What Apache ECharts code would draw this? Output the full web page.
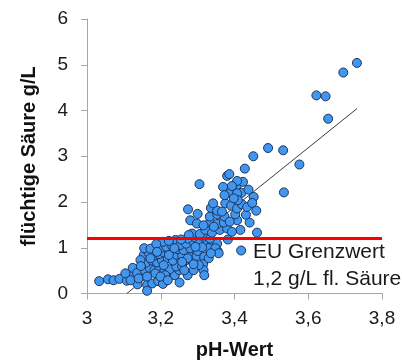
<!DOCTYPE html>
<html>
<head>
<meta charset="utf-8">
<script src="https://cdn.jsdelivr.net/npm/echarts@6/dist/echarts.min.js"></script>
<style>
  html, body { margin: 0; padding: 0; background: #fff; }
  #chart { width: 402px; height: 363px; }
</style>
</head>
<body>
<div id="chart"></div>
<script>
// pH values of the wine samples
const phWerte = [
  3.033, 3.057, 3.072, 3.088, 3.108, 3.125, 3.124, 3.137, 3.146, 3.136,
  3.163, 3.163, 3.177, 3.193, 3.206, 3.156, 3.170, 3.183, 3.196, 3.210,
  3.226, 3.238, 3.251, 3.273, 3.250, 3.224, 3.242, 3.160, 3.176, 3.190,
  3.203, 3.219, 3.233, 3.253, 3.267, 3.283, 3.154, 3.167, 3.181, 3.195,
  3.208, 3.223, 3.242, 3.258, 3.276, 3.297, 3.155, 3.172, 3.199, 3.215,
  3.231, 3.246, 3.262, 3.280, 3.300, 3.318, 3.315, 3.316, 3.318, 3.330,
  3.303, 3.206, 3.240, 3.253, 3.269, 3.289, 3.307, 3.321, 3.339, 3.353,
  3.354, 3.330, 3.348, 3.273, 3.294, 3.315, 3.334, 3.382, 3.418, 3.285,
  3.306, 3.321, 3.339, 3.360, 3.380, 3.416, 3.461, 3.334, 3.353, 3.371,
  3.407, 3.441, 3.280, 3.298, 3.333, 3.353, 3.373, 3.402, 3.431, 3.459,
  3.274, 3.300, 3.336, 3.353, 3.375, 3.391, 3.407, 3.420, 3.342, 3.389,
  3.405, 3.419, 3.438, 3.452, 3.369, 3.423, 3.407, 3.428, 3.380, 3.386,
  3.305, 3.451, 3.491, 3.532, 3.576, 3.534, 3.622, 3.647, 3.654, 3.695,
  3.732, 3.258, 3.273, 3.212, 3.357, 3.409, 3.366, 3.145, 3.185, 3.199,
  3.219, 3.264, 3.289, 3.289, 3.237, 3.188, 3.222, 3.255, 3.303, 3.336,
  3.312, 3.344, 3.316, 3.393, 3.387, 3.434, 3.448, 3.398, 3.373, 3.407,
  3.393, 3.104, 3.118, 3.140, 3.163, 3.146, 3.208, 3.172, 3.190, 3.258,
  3.294, 3.276, 3.222
];

// volatile acidity (g/L) of the same samples
const saeure = [
  0.27, 0.31, 0.29, 0.32, 0.28, 0.40, 0.56, 0.20, 0.37, 0.45,
  0.19, 0.06, 0.22, 0.27, 0.21, 0.51, 0.56, 0.51, 0.59, 0.51,
  0.40, 0.40, 0.24, 0.40, 0.51, 0.53, 0.59, 0.67, 0.72, 0.68,
  0.73, 0.77, 0.72, 0.77, 0.72, 0.73, 0.84, 0.89, 0.82, 0.86,
  0.90, 0.91, 0.85, 0.83, 0.88, 0.82, 0.99, 0.98, 0.99, 1.02,
  1.04, 0.97, 0.95, 0.99, 0.93, 0.80, 0.64, 0.51, 0.40, 0.77,
  0.62, 1.13, 1.17, 1.06, 1.09, 1.13, 1.17, 1.13, 1.13, 1.09,
  0.93, 0.99, 0.99, 1.20, 1.22, 1.24, 1.20, 1.18, 0.94, 1.31,
  1.30, 1.39, 1.33, 1.39, 1.42, 1.39, 1.33, 1.57, 1.52, 1.55,
  1.60, 1.55, 1.60, 1.53, 1.68, 1.73, 1.68, 1.73, 1.72, 1.81,
  1.84, 1.74, 1.87, 1.81, 1.97, 1.92, 1.86, 1.95, 1.97, 2.20,
  2.33, 2.20, 2.27, 2.11, 2.33, 2.44, 2.19, 2.73, 2.57, 2.61,
  2.39, 3.00, 3.18, 3.13, 2.82, 2.21, 4.33, 4.31, 3.82, 4.83,
  5.04, 0.59, 0.77, 0.40, 0.88, 2.04, 1.79, 0.73, 0.44, 0.37,
  0.29, 0.51, 0.51, 0.64, 0.99, 1.08, 1.15, 1.18, 1.08, 0.88,
  1.01, 1.46, 1.49, 1.35, 1.57, 1.89, 1.98, 2.08, 2.15, 2.46,
  2.35, 0.44, 0.29, 0.33, 0.37, 0.60, 0.62, 0.77, 0.91, 0.69,
  1.02, 1.28, 0.84
];

// linear trend: end points (pH, g/L)
const trendPh = [3.108, 3.732];
const trendSaeure = [0.0, 4.04];

// EU limit for volatile acidity
const grenzwert = 1.2;
const grenzwertText = ['EU Grenzwert', '1,2 g/L fl. Säure'];

// axis ranges and tick labels
const xTicks = ['3', '3,2', '3,4', '3,6', '3,8'];
const yTicks = ['0', '1', '2', '3', '4', '5', '6'];
const xMin = 3, xMax = 3.8, xStep = 0.2;
const yMin = 0, yMax = 6, yStep = 1;

const punkte = phWerte.map((p, i) => [p, saeure[i]]);
const trend = trendPh.map((p, i) => [p, trendSaeure[i]]);

const FONT = '"Liberation Sans", Arial, sans-serif';
const axisGray = '#a6a6a6';

const chart = echarts.init(document.getElementById('chart'), null, { renderer: 'canvas' });

chart.setOption({
  animation: false,
  backgroundColor: '#ffffff',
  grid: {
    left: 87, right: 20, top: 19, bottom: 69.5,
    containLabel: false,
    outerBoundsMode: 'none'
  },
  xAxis: {
    type: 'value',
    min: xMin, max: xMax, interval: xStep,
    name: 'pH-Wert',
    nameLocation: 'middle',
    nameGap: 47,
    nameTextStyle: { fontFamily: FONT, fontSize: 20, fontWeight: 'bold', color: '#111' },
    axisLine: { show: true, lineStyle: { color: axisGray, width: 1 } },
    axisTick: { show: true, inside: false, length: 6, lineStyle: { color: axisGray } },
    splitLine: { show: false },
    axisLabel: {
      margin: 16,
      fontFamily: FONT, fontSize: 19, color: '#1a1a1a',
      formatter: v => xTicks[Math.round((v - xMin) / xStep)]
    }
  },
  yAxis: {
    type: 'value',
    min: yMin, max: yMax, interval: yStep,
    name: 'flüchtige Säure g/L',
    nameLocation: 'middle',
    nameGap: 48,
    nameTextStyle: { fontFamily: FONT, fontSize: 20, fontWeight: 'bold', color: '#111' },
    axisLine: { show: true, lineStyle: { color: axisGray, width: 1 } },
    axisTick: { show: true, inside: false, length: 6, lineStyle: { color: axisGray } },
    splitLine: { show: false },
    axisLabel: {
      margin: 19,
      fontFamily: FONT, fontSize: 19, color: '#1a1a1a',
      formatter: v => yTicks[Math.round((v - yMin) / yStep)]
    }
  },
  series: [
    {
      name: 'Trend',
      type: 'line',
      data: trend,
      symbol: 'none',
      z: 1,
      lineStyle: { color: '#3c3c3c', width: 1 },
      silent: true
    },
    {
      name: 'Proben',
      type: 'scatter',
      data: punkte,
      symbol: 'circle',
      symbolSize: 9,
      z: 2,
      itemStyle: { color: '#4197ee', borderColor: '#1c3360', borderWidth: 1, opacity: 1 },
      markLine: {
        silent: true,
        symbol: 'none',
        label: { show: false },
        lineStyle: { color: '#ff0000', width: 3, type: 'solid' },
        data: [[{ coord: [xMin, grenzwert] }, { coord: [xMax, grenzwert] }]]
      }
    }
  ],
  graphic: [
    {
      type: 'text',
      left: 253, top: 242,
      style: { text: grenzwertText[0], font: '21px ' + FONT, fill: '#1a1a1a' },
      z: 10
    },
    {
      type: 'text',
      left: 253, top: 269,
      style: { text: grenzwertText[1], font: '21px ' + FONT, fill: '#1a1a1a' },
      z: 10
    }
  ]
});
</script>
</body>
</html>
